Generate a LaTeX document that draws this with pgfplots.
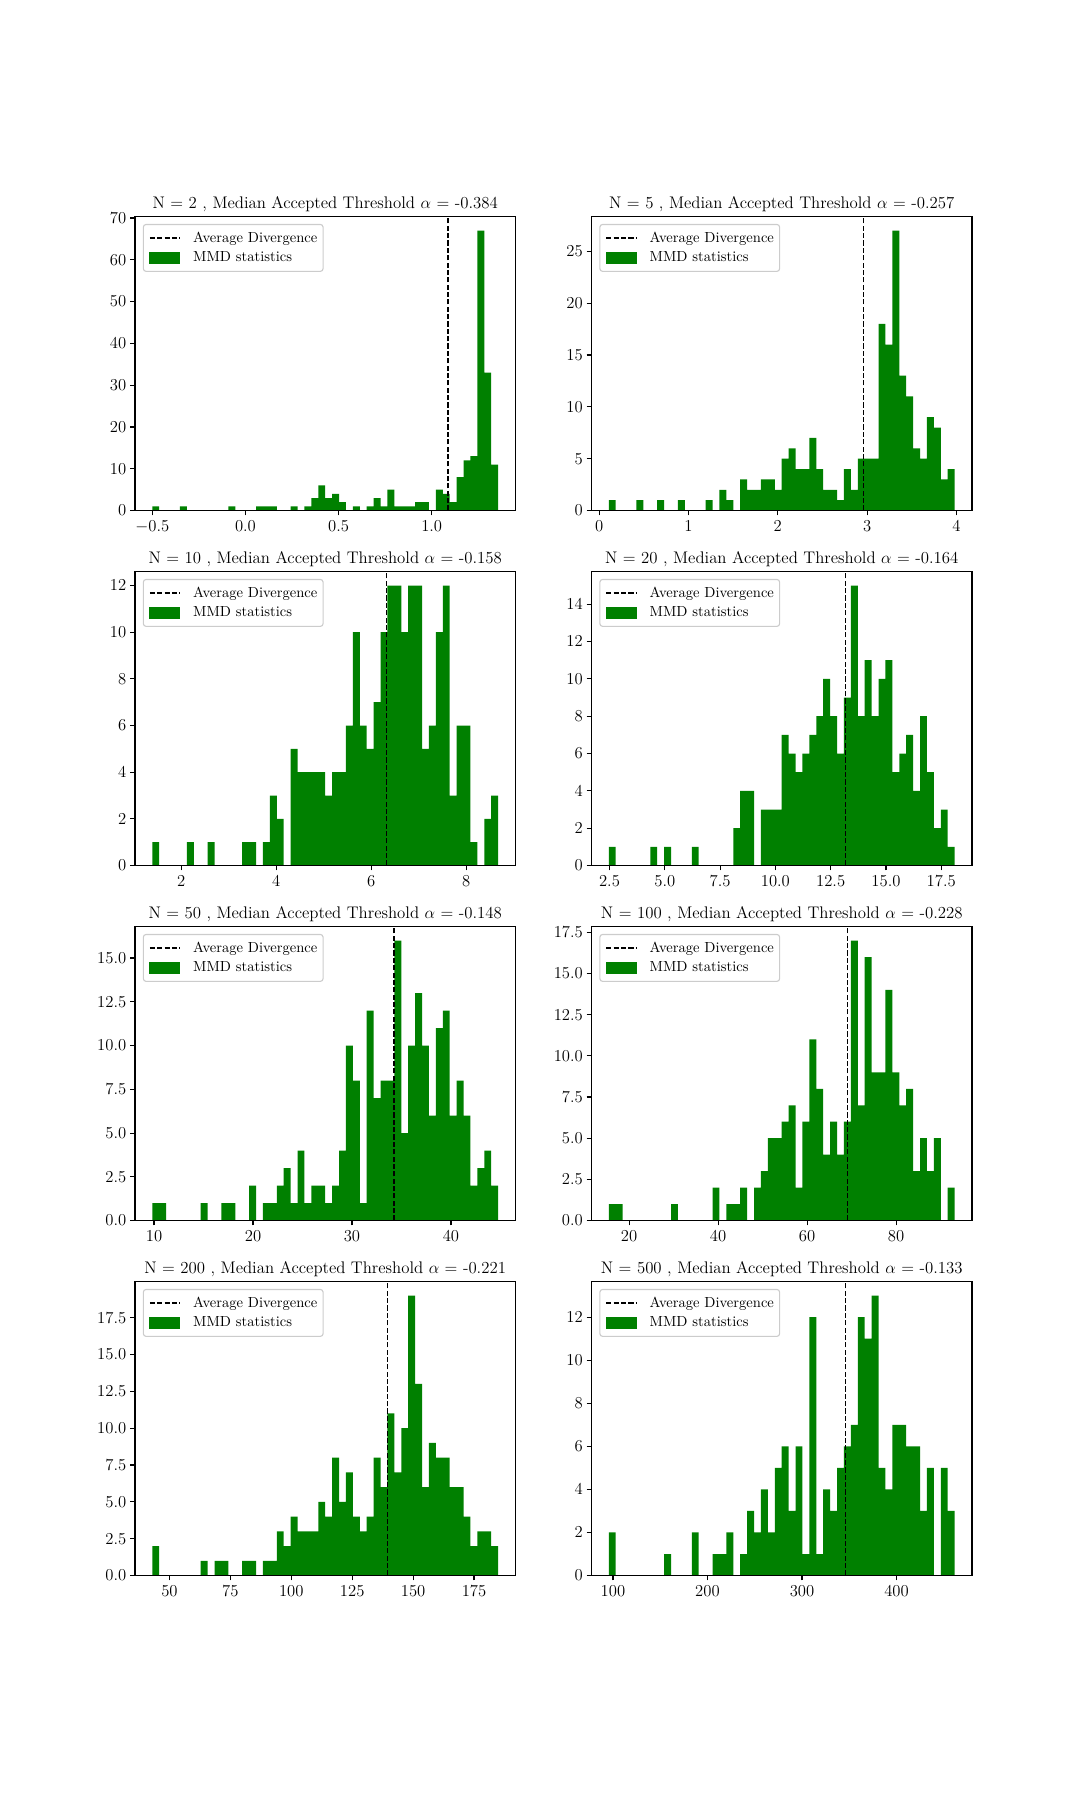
\documentclass[border=0pt]{standalone}
\usepackage{pgfplots}
\pgfplotsset{compat=1.18}
\usepackage{pgfplotstable}
\definecolor{mplgreen}{RGB}{0,128,0}

% histogram counts (50 bins, last value repeated to close the last step)
\pgfplotstableread[row sep=\\]{c\\1\\0\\0\\0\\1\\0\\0\\0\\0\\0\\0\\1\\0\\0\\0\\1\\1\\1\\0\\0\\1\\0\\1\\3\\6\\3\\4\\2\\0\\1\\0\\1\\3\\1\\5\\1\\1\\1\\2\\2\\0\\5\\4\\2\\8\\12\\13\\67\\33\\11\\11\\}\tabA
\pgfplotstableread[row sep=\\]{c\\1\\0\\0\\0\\1\\0\\0\\1\\0\\0\\1\\0\\0\\0\\1\\0\\2\\1\\0\\3\\2\\2\\3\\3\\2\\5\\6\\4\\4\\7\\4\\2\\2\\1\\4\\2\\5\\5\\5\\18\\16\\27\\13\\11\\6\\5\\9\\8\\3\\4\\4\\}\tabB
\pgfplotstableread[row sep=\\]{c\\1\\0\\0\\0\\0\\1\\0\\0\\1\\0\\0\\0\\0\\1\\1\\0\\1\\3\\2\\0\\5\\4\\4\\4\\4\\3\\4\\4\\6\\10\\6\\5\\7\\10\\12\\12\\10\\12\\12\\5\\6\\10\\12\\3\\6\\6\\1\\0\\2\\3\\3\\}\tabC
\pgfplotstableread[row sep=\\]{c\\1\\0\\0\\0\\0\\0\\1\\0\\1\\0\\0\\0\\1\\0\\0\\0\\0\\0\\2\\4\\4\\0\\3\\3\\3\\7\\6\\5\\6\\7\\8\\10\\8\\6\\9\\15\\8\\11\\8\\10\\11\\5\\6\\7\\4\\8\\5\\2\\3\\1\\1\\}\tabD
\pgfplotstableread[row sep=\\]{c\\1\\1\\0\\0\\0\\0\\0\\1\\0\\0\\1\\1\\0\\0\\2\\0\\1\\1\\2\\3\\1\\4\\1\\2\\2\\1\\2\\4\\10\\8\\1\\12\\7\\8\\8\\16\\5\\10\\13\\10\\6\\11\\12\\6\\8\\6\\2\\3\\4\\2\\2\\}\tabE
\pgfplotstableread[row sep=\\]{c\\1\\1\\0\\0\\0\\0\\0\\0\\0\\1\\0\\0\\0\\0\\0\\2\\0\\1\\1\\2\\0\\2\\3\\5\\5\\6\\7\\2\\6\\11\\8\\4\\6\\4\\6\\17\\7\\16\\9\\9\\14\\9\\7\\8\\3\\5\\3\\5\\0\\2\\2\\}\tabF
\pgfplotstableread[row sep=\\]{c\\2\\0\\0\\0\\0\\0\\0\\1\\0\\1\\1\\0\\0\\1\\1\\0\\1\\1\\3\\2\\4\\3\\3\\3\\5\\4\\8\\5\\7\\4\\3\\4\\8\\6\\11\\7\\10\\19\\13\\6\\9\\8\\8\\6\\6\\4\\2\\3\\3\\2\\2\\}\tabG
\pgfplotstableread[row sep=\\]{c\\2\\0\\0\\0\\0\\0\\0\\0\\1\\0\\0\\0\\2\\0\\0\\1\\1\\2\\0\\1\\3\\2\\4\\2\\5\\6\\3\\6\\1\\12\\1\\4\\3\\5\\6\\7\\12\\11\\13\\5\\4\\7\\7\\6\\6\\3\\5\\0\\5\\3\\3\\}\tabH

\pgfplotsset{
 every axis title/.style={at={(0.5,1)}, anchor=base, yshift=6pt, inner sep=0pt,
    font=\fontsize{12.1}{14.5}\selectfont},
 hist/.style={
  scale only axis, width=273.9pt, height=211.7pt, anchor=north west,
  ymin=0, enlarge x limits=0.05,
  axis line style={black, line width=0.8pt},
  xtick pos=bottom, ytick pos=left, tick align=outside,
  major tick length=3.5pt,
  every tick/.style={black, line width=0.8pt},
  minor tick num=0,
  scaled ticks=false,
  tick label style={font=\fontsize{12}{14}\selectfont},
  xticklabel style={inner sep=0pt, yshift=-3.5pt},
  yticklabel style={inner sep=0pt, xshift=-2.6pt},
  legend cell align=left,
  legend style={at={(0,1)}, anchor=north west, xshift=5.6pt, yshift=-5.3pt,
    draw=black!20, line width=0.8pt, fill=white, rounded corners=2pt,
    font=\fontsize{10.5}{12}\selectfont, inner xsep=4.1pt, inner ysep=5.3pt,
    row sep=5.2pt, column sep=9.1pt,
    nodes={inner sep=0pt, text height=7.5pt, text depth=1.5pt}},
  axis on top,
 },
 xone/.style={xticklabel style={/pgf/number format/.cd, fixed, fixed zerofill, precision=1}},
 yone/.style={yticklabel style={/pgf/number format/.cd, fixed, fixed zerofill, precision=1}},
 divline/.style={black, line width=1.1pt, dash pattern=on 3.7pt off 1.6pt, forget plot},
 histbars/.style={const plot, fill=mplgreen, draw=none, forget plot},
}
\newcommand{\legendentries}{%
  \addlegendimage{legend image code/.code={\draw[black, line width=1.1pt, dash pattern=on 3.7pt off 1.6pt, sharp corners] (0pt,0pt) -- (21.6pt,0pt);}}
  \addlegendentry{Average Divergence}
  \addlegendimage{legend image code/.code={\fill[mplgreen, sharp corners] (0pt,-3.85pt) rectangle (21.6pt,3.85pt);}}
  \addlegendentry{MMD statistics}%
}

\begin{document}
\begin{tikzpicture}
\path[use as bounding box] (0pt,0pt) rectangle (777.6pt,-1296pt);

% N = 2
\begin{axis}[hist, xone, at={(97.2pt,-155.9pt)}, ymax=70.35,
  xtick={-0.5,0,0.5,1}, ytick={0,10,20,30,40,50,60,70},
  title={N = 2 , Median Accepted Threshold $\alpha$ = -0.384}]
\legendentries
\addplot[histbars] table[x expr={-0.5+0.037132*\coordindex}, y=c] {\tabA} \closedcycle;
\addplot[divline] coordinates {(1.087,0) (1.087,70.35)};
\end{axis}

% N = 5
\begin{axis}[hist, at={(425.9pt,-155.9pt)}, ymax=28.35,
  xtick={0,1,2,3,4}, ytick={0,5,10,15,20,25},
  title={N = 5 , Median Accepted Threshold $\alpha$ = -0.257}]
\legendentries
\addplot[histbars] table[x expr={0.1079+0.077456*\coordindex}, y=c] {\tabB} \closedcycle;
\addplot[divline] coordinates {(2.96,0) (2.96,28.35)};
\end{axis}

% N = 10
\begin{axis}[hist, at={(97.2pt,-411.5pt)}, ymax=12.6,
  xtick={2,4,6,8}, ytick={0,2,4,6,8,10,12},
  title={N = 10 , Median Accepted Threshold $\alpha$ = -0.158}]
\legendentries
\addplot[histbars] table[x expr={1.391+0.14566*\coordindex}, y=c] {\tabC} \closedcycle;
\addplot[divline] coordinates {(6.319,0) (6.319,12.6)};
\end{axis}

% N = 20
\begin{axis}[hist, xone, at={(425.9pt,-411.5pt)}, ymax=15.75,
  xtick={2.5,5,7.5,10,12.5,15,17.5}, ytick={0,2,4,6,8,10,12,14},
  title={N = 20 , Median Accepted Threshold $\alpha$ = -0.164}]
\legendentries
\addplot[histbars] table[x expr={2.469+0.31275*\coordindex}, y=c] {\tabD} \closedcycle;
\addplot[divline] coordinates {(13.17,0) (13.17,15.75)};
\end{axis}

% N = 50
\begin{axis}[hist, yone, at={(97.2pt,-667.1pt)}, ymax=16.8,
  xtick={10,20,30,40}, ytick={0,2.5,5,7.5,10,12.5,15},
  title={N = 50 , Median Accepted Threshold $\alpha$ = -0.148}]
\legendentries
\addplot[histbars] table[x expr={9.826+0.6987*\coordindex}, y=c] {\tabE} \closedcycle;
\addplot[divline] coordinates {(34.23,0) (34.23,16.8)};
\end{axis}

% N = 100
\begin{axis}[hist, yone, at={(425.9pt,-667.1pt)}, ymax=17.85,
  xtick={20,40,60,80}, ytick={0,2.5,5,7.5,10,12.5,15,17.5},
  title={N = 100 , Median Accepted Threshold $\alpha$ = -0.228}]
\legendentries
\addplot[histbars] table[x expr={15.438+1.5542*\coordindex}, y=c] {\tabF} \closedcycle;
\addplot[divline] coordinates {(69.03,0) (69.03,17.85)};
\end{axis}

% N = 200
\begin{axis}[hist, yone, at={(97.2pt,-922.7pt)}, ymax=19.95,
  xtick={50,75,100,125,150,175}, ytick={0,2.5,5,7.5,10,12.5,15,17.5},
  title={N = 200 , Median Accepted Threshold $\alpha$ = -0.221}]
\legendentries
\addplot[histbars] table[x expr={42.94+2.839*\coordindex}, y=c] {\tabG} \closedcycle;
\addplot[divline] coordinates {(139.4,0) (139.4,19.95)};
\end{axis}

% N = 500
\begin{axis}[hist, at={(425.9pt,-922.7pt)}, ymax=13.65,
  xtick={100,200,300,400}, ytick={0,2,4,6,8,10,12},
  title={N = 500 , Median Accepted Threshold $\alpha$ = -0.133}]
\legendentries
\addplot[histbars] table[x expr={95.63+7.318*\coordindex}, y=c] {\tabH} \closedcycle;
\addplot[divline] coordinates {(346.1,0) (346.1,13.65)};
\end{axis}
\end{tikzpicture}
\end{document}
